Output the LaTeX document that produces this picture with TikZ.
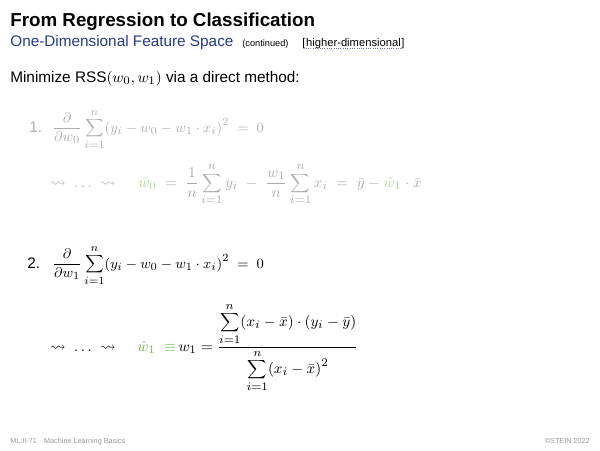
\documentclass[tikz,border=0pt]{standalone}
\usepackage{amsfonts, amsmath, amssymb}
\usepackage[no-math]{fontspec}
\setmainfont{Liberation Sans}
\usepackage{tikz}
\usetikzlibrary{positioning}
\definecolor{subblue}{RGB}{38,56,140}
\definecolor{solgreen}{RGB}{112,182,72}
\definecolor{footgray}{RGB}{150,150,150}
\newcommand{\rsum}{\mathop{\vcenter{\hbox{\scalebox{0.85}{$\displaystyle\sum$}}}}\limits}
\tikzset{
    txt/.style = {anchor = base west, inner sep = 0pt},
    titletxt/.style = {txt, font = \fontsize{11.4}{13}\selectfont\bfseries},
    body/.style = {txt, font = \fontsize{9.3}{11}\selectfont},
    condeq/.style = {body, scale = 0.95, transform shape},
    smalltxt/.style = {txt, font = \fontsize{5.6}{7}\selectfont},
    linktxt/.style = {txt, font = \fontsize{6.8}{8}\selectfont},
    foot/.style = {txt, font = \fontsize{4.4}{5}\selectfont, text = footgray},
    faded/.style = {text = black!32},
}

\begin{document}
\begin{tikzpicture}[x = 0.021333cm, y = -0.021333cm]
\useasboundingbox (0,0) rectangle (600,450);
% heading
\node[titletxt] (title) at (10,26) {From Regression to Classification};
\node[body, text = subblue] (sub) at (10,46) {One-Dimensional Feature Space};
\node[smalltxt, base right = 5pt of sub] (cont) {(continued)};
\node[linktxt, base right = 8pt of cont] (lb) {[};
\node[linktxt, base right = 0pt of lb] (hd) {higher-dimensional};
\node[linktxt, base right = 0pt of hd] (rb) {]};
\draw[densely dotted, subblue!70, line width = 0.4pt] ([yshift=-1.2pt]hd.base west) -- ([yshift=-1.2pt]hd.base east);
\node[body] (intro) at (10,82) {Minimize RSS$(w_0, w_1)$ via a direct method:};
% first condition
\node[body, faded] (n1) at (29,132) {1.};
\node[condeq, faded] (eq1) at (52,132) {$\displaystyle \frac{\partial}{\partial w_0}\rsum_{i=1}^{n}(y_i - w_0 - w_1\cdot x_i)^2 \ =\ 0$};
\node[body, faded] (lt1) at (50,187) {$\leadsto\ \ldots\ \leadsto$};
\node[body, faded] (sol1) at (138,187) {$\displaystyle {\color{solgreen!55}\hat{w}_0} \ =\ \frac{1}{n}\rsum_{i=1}^{n} y_i \ -\ \frac{w_1}{n}\rsum_{i=1}^{n} x_i \ =\ \bar{y} - {\color{solgreen!55}\hat{w}_1}\cdot\bar{x}$};
% second condition
\node[body] (n2) at (27,268) {2.};
\node[condeq] (eq2) at (52,268) {$\displaystyle \frac{\partial}{\partial w_1}\rsum_{i=1}^{n}(y_i - w_0 - w_1\cdot x_i)^2 \ =\ 0$};
\node[body] (lt2) at (50,351) {$\leadsto\ \ldots\ \leadsto$};
\node[body] (sol2) at (137,351) {${\color{solgreen}\hat{w}_1\ \equiv}\, w_1 = \dfrac{\displaystyle\rsum_{i=1}^{n}(x_i-\bar{x})\cdot(y_i-\bar{y})}{\displaystyle\rsum_{i=1}^{n}(x_i-\bar{x})^2}$};
% footer
\node[foot] (f1) at (10,443) {ML:II-71};
\node[foot, base right = 4pt of f1] (f2) {Machine Learning Basics};
\node[foot, anchor = base east] (f3) at (590,443) {\copyright STEIN 2022};
\end{tikzpicture}
\end{document}
